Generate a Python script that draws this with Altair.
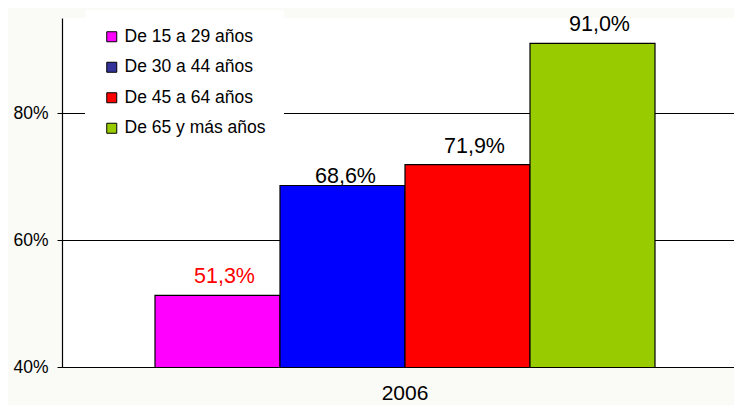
import altair as alt
import pandas as pd

year = ["2006"]
groups = ["De 15 a 29 años", "De 30 a 44 años", "De 45 a 64 años", "De 65 y más años"]
values = [51.3, 68.6, 71.9, 91.0]
labels = ["51,3%", "68,6%", "71,9%", "91,0%"]
bar_colors = ["#FF00FF", "#0000FF", "#FF0000", "#99CC00"]
legend_colors = ["#FF00FF", "#333399", "#FF0000", "#99CC00"]
label_colors = ["#FF0000", "#000000", "#000000", "#000000"]

df = pd.DataFrame({
    "year": year * len(groups),
    "group": groups,
    "legend": groups,
    "value": values,
    "label": labels,
    "lcolor": label_colors,
})

FONT = "Liberation Sans"

x = alt.X("year:N", title=None,
          scale=alt.Scale(paddingInner=0, paddingOuter=0.172, align=0.5407),
          axis=alt.Axis(labelAngle=0, ticks=False, labelFontSize=21, labelColor="#000000",
                        labelPadding=15, domainColor="#000000", domainWidth=1.2,
                        labelFont=FONT, grid=False))
xo = alt.XOffset("group:N", sort=groups, scale=alt.Scale(paddingInner=0, paddingOuter=0))
y = alt.Y("value:Q", title=None,
          scale=alt.Scale(domain=[40, 95], nice=False, zero=False),
          axis=alt.Axis(values=[40, 60, 80], labelExpr="datum.value + '%'",
                        labelFontSize=17.5, labelFont=FONT, labelColor="#000000",
                        tickColor="#000000", tickSize=5, labelPadding=9,
                        domainColor="#000000", domainWidth=1.2,
                        grid=True, gridColor="#000000", gridWidth=1.2, gridOpacity=1))

bars = alt.Chart(df).mark_bar(stroke="#000000", strokeWidth=1.2, clip=True).encode(
    x=x, xOffset=xo, y=y,
    fill=alt.Fill("group:N", sort=groups,
                  scale=alt.Scale(domain=groups, range=bar_colors), legend=None),
)

legend_layer = alt.Chart(df).mark_square(size=0, opacity=0).encode(
    x=x, xOffset=xo, y=y,
    color=alt.Color("legend:N", sort=groups, title=None,
                    scale=alt.Scale(domain=groups, range=legend_colors),
                    legend=alt.Legend(orient="none", legendX=23, legendY=-8,
                                      fillColor="#FFFFFF", padding=18,
                                      symbolType="square", symbolSize=100,
                                      symbolStrokeColor="#000000", symbolStrokeWidth=1,
                                      symbolOpacity=1,
                                      labelFont=FONT, labelFontSize=17.5,
                                      labelColor="#000000", rowPadding=11.5,
                                      labelOffset=4)),
)

text_main = alt.Chart(df).transform_filter(
    alt.datum.group != groups[1]
).mark_text(baseline="bottom", dy=-7, dx=7, fontSize=21.5, font=FONT).encode(
    x=x, xOffset=xo, y=y, text="label:N",
    color=alt.Color("lcolor:N", scale=None),
)

text_blue = alt.Chart(df).transform_filter(
    alt.datum.group == groups[1]
).mark_text(baseline="bottom", dy=2, dx=3, fontSize=21.5, font=FONT).encode(
    x=x, xOffset=xo, y=y, text="label:N",
    color=alt.Color("lcolor:N", scale=None),
)

chart = alt.layer(bars, legend_layer, text_main, text_blue).resolve_scale(
    color="independent"
).properties(
    width=672, height=349,
    autosize=alt.AutoSizeParams(type="none"),
    padding={"left": 54, "top": 10, "right": 0, "bottom": 38},
    background="#FAFAF6",
).configure_view(
    fill="#FFFFFF", stroke=None
).configure_axis(labelFont=FONT)

chart.save("out.html", embed_options={"renderer": "svg", "actions": False})
